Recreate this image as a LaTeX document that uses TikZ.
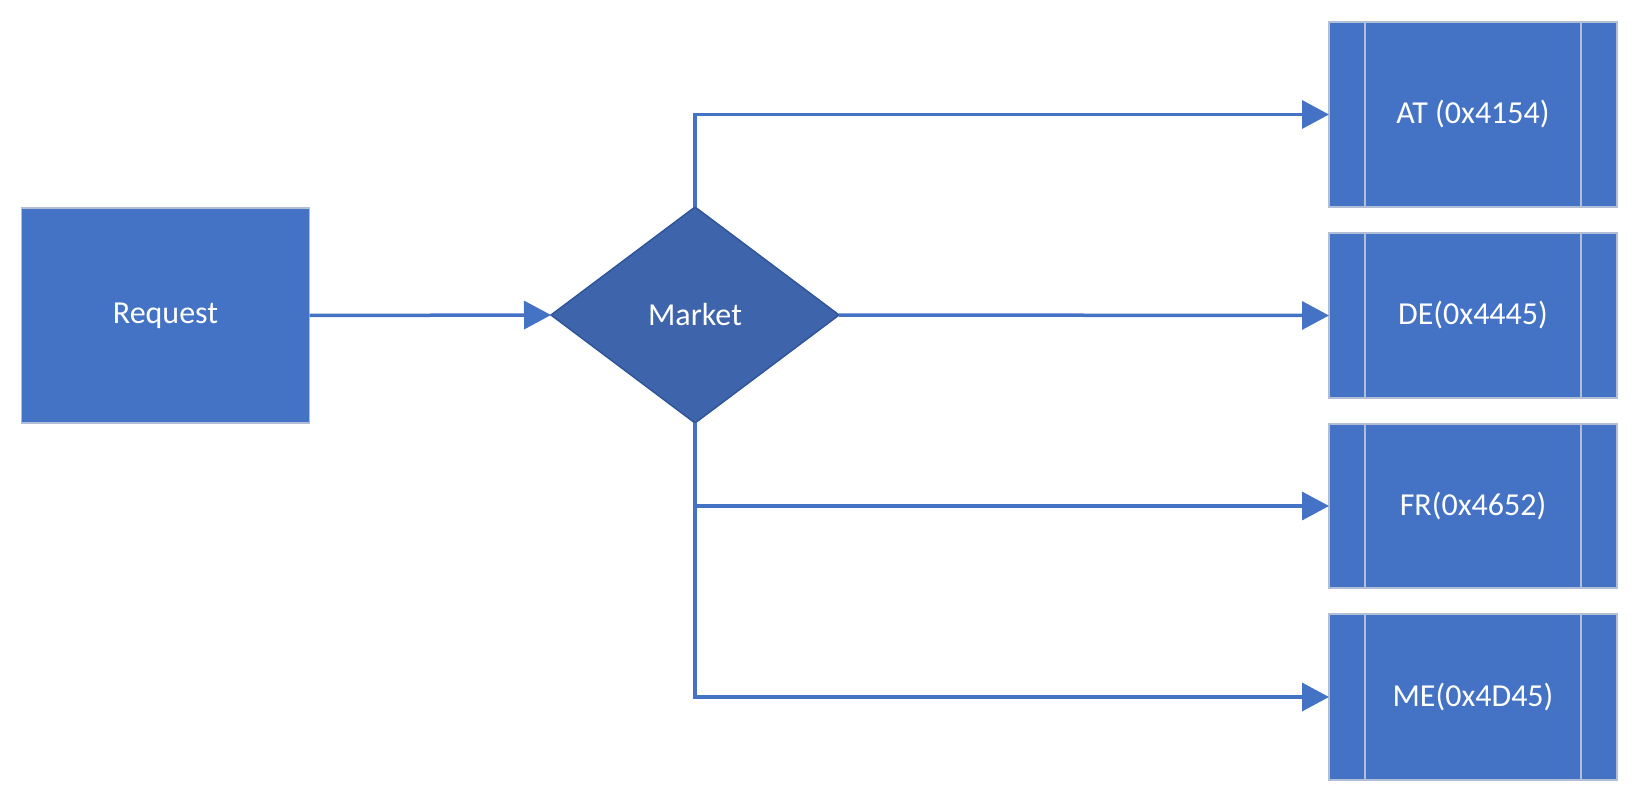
\documentclass[tikz,border=0pt]{standalone}
\usepackage{fontspec}
\setmainfont{Carlito}
\usetikzlibrary{shapes.geometric,arrows.meta}
\definecolor{boxblue}{HTML}{4472C4}
\definecolor{dblue}{HTML}{3E64AC}
\definecolor{dborder}{HTML}{30559A}
\definecolor{lborder}{HTML}{B2BED6}
\tikzset{
  procbox/.style={rectangle, fill=boxblue, draw=lborder, line width=1.5pt, inner sep=0pt, outer sep=0pt,
    minimum width=288pt, text=white, font=\fontsize{32}{36}\selectfont},
  predef/.style={procbox, path picture={
    \draw[lborder, line width=1.5pt] ([xshift=36pt]path picture bounding box.north west) -- ([xshift=36pt]path picture bounding box.south west);
    \draw[lborder, line width=1.5pt] ([xshift=-36pt]path picture bounding box.north east) -- ([xshift=-36pt]path picture bounding box.south east);}},
  decision/.style={diamond, fill=dblue, draw=dborder, line width=1.5pt, inner sep=0pt, outer sep=0pt,
    minimum width=288pt, minimum height=216pt, aspect=1.333, text=white, font=\fontsize{32}{36}\selectfont},
  conn/.style={draw=boxblue, line width=3.5pt, -{Triangle[length=27pt,width=28pt]}}
}
\begin{document}
\begin{tikzpicture}[x=1pt,y=-1pt]
\useasboundingbox (0,0) rectangle (1638,802);
\node[procbox, minimum height=215pt] (req) at (165.5,315.5) {Request};
\node[decision] (mkt) at (695,315) {Market};
\node[predef, minimum height=185pt] (at) at (1473,114.5) {AT (0x4154)};
\node[predef, minimum height=165pt] (de) at (1473,315.5) {DE(0x4445)};
\node[predef, minimum height=164pt] (fr) at (1473,506) {FR(0x4652)};
\node[predef, minimum height=166pt] (me) at (1473,697) {ME(0x4D45)};
\draw[conn] (req.east) -- (mkt.west);
\draw[conn] (mkt.north) |- (at.west);
\draw[conn] (mkt.east) -- (de.west);
\draw[conn] (mkt.south) |- (fr.west);
\draw[conn] (mkt.south) |- (me.west);
\end{tikzpicture}
\end{document}
